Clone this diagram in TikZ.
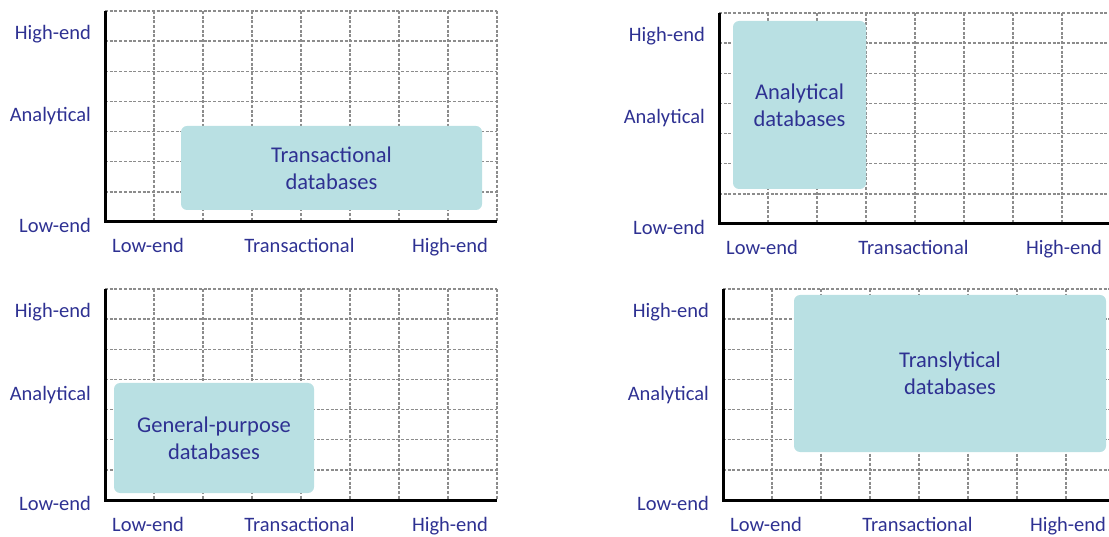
\documentclass[tikz,border=0pt]{standalone}
\usepackage{fontspec}
\setmainfont{Carlito}
\definecolor{txtblue}{RGB}{46,49,146}
\definecolor{boxfill}{RGB}{185,224,227}
\definecolor{gridgray}{RGB}{140,140,140}
\tikzset{
  gridline/.style={draw=gridgray, line width=1.3pt, dash pattern=on 3pt off 1.7pt},
  axisline/.style={draw=black, line width=3pt},
  axlabel/.style={text=txtblue, font=\fontsize{20.5}{24}\selectfont, inner sep=0pt},
  dbbox/.style={fill=boxfill, rounded corners=6pt, text=txtblue, align=center,
    font=\fontsize{22.5}{27}\selectfont, inner sep=0pt},
}
\newcommand{\quadrant}[5]{% #1 name, #2 left, #3 top, #4 right, #5 bottom
  \pgfmathsetmacro{\rowh}{(#5-#3)/7}
  \foreach \i in {0,...,6} {
    \draw[gridline] (#2,{#3+\i*\rowh}) -- (#4,{#3+\i*\rowh});
  }
  \foreach \j in {1,...,8} {
    \draw[gridline] ({#2+\j*49},#3) -- ({#2+\j*49},#5);
  }
  \node[axlabel, anchor=base east] (#1yh) at (#2-14,#3+28.5) {High-end};
  \node[axlabel, anchor=base east] (#1ya) at (#2-14,#3+111) {Analytical};
  \node[axlabel, anchor=base east] (#1yl) at (#2-14,#5+10.5) {Low-end};
  \node[axlabel, anchor=base] (#1xl) at (#2+43,#5+31) {Low-end};
  \node[axlabel, anchor=base] (#1xt) at (#2+194.5,#5+31) {Transactional};
  \node[axlabel, anchor=base] (#1xh) at (#2+345,#5+31) {High-end};
}
\begin{document}
\begin{tikzpicture}[x=1pt,y=-1pt]
\useasboundingbox (0,0) rectangle (1109,537);
\begin{scope}
\clip (0,0) rectangle (1109,537);
% Panel 1
\quadrant{a}{105}{11}{497}{222}
\node[dbbox, minimum width=301pt, minimum height=84pt] (trans) at (331.5,168) {Transactional\\databases};
\draw[axisline] (105,11) -- (105,222) -- (497,222);
% Panel 2
\quadrant{b}{719}{13}{1111}{224}
\node[dbbox, minimum width=133pt, minimum height=168pt] (anal) at (799.5,105) {Analytical\\databases};
\draw[axisline] (719,13) -- (719,224) -- (1111,224);
% Panel 3
\quadrant{c}{105}{289}{497}{500}
\node[dbbox, minimum width=200pt, minimum height=110pt] (gen) at (214,438) {General-purpose\\databases};
\draw[axisline] (105,289) -- (105,500) -- (497,500);
% Panel 4
\quadrant{d}{723}{289}{1115}{500}
\node[dbbox, minimum width=312pt, minimum height=157pt] (transl) at (950,373.5) {Translytical\\databases};
\draw[axisline] (723,289) -- (723,500) -- (1115,500);
\end{scope}
\end{tikzpicture}
\end{document}
